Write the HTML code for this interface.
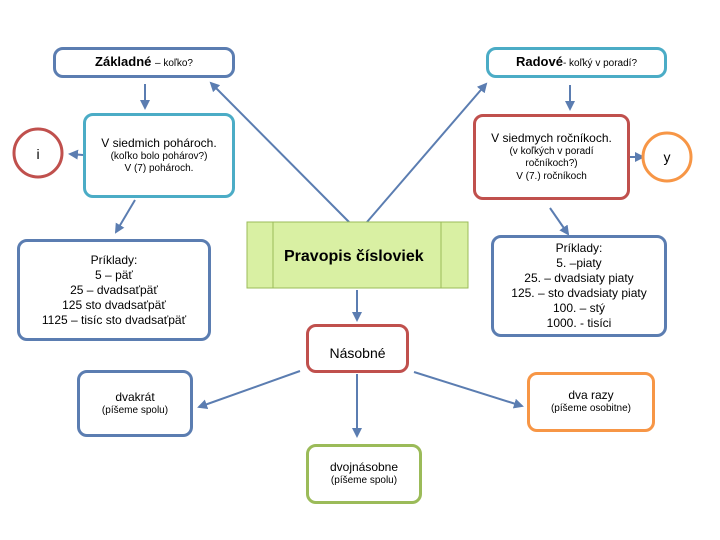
<!DOCTYPE html>
<html><head><meta charset="utf-8"><style>
body{margin:0;background:#fff;}
.b{position:absolute;box-sizing:border-box;border:3px solid #5b7db1;border-radius:10px;background:#fff;display:flex;flex-direction:column;justify-content:center;align-items:center;text-align:center;font-family:"Liberation Sans",sans-serif;color:#000;line-height:1.25}
.s{font-size:10px}
.m{font-size:12px}
</style></head><body>
<div style="position:relative;width:720px;height:540px;overflow:hidden">
<svg width="720" height="540" style="position:absolute;left:0;top:0">
<defs><marker id="a" markerWidth="5" markerHeight="5" refX="4" refY="2.5" orient="auto"><path d="M0,0L5,2.5L0,5z" fill="#5b7db1"/></marker></defs>
<g stroke="#5b7db1" stroke-width="2" fill="none" marker-end="url(#a)">
<line x1="145" y1="84" x2="145" y2="108"/>
<line x1="83" y1="155" x2="70" y2="154"/>
<line x1="135" y1="200" x2="116" y2="232"/>
<line x1="349" y1="222" x2="211" y2="83"/>
<line x1="367" y1="222" x2="486" y2="84"/>
<line x1="570" y1="85" x2="570" y2="109"/>
<line x1="630" y1="157" x2="643" y2="157"/>
<line x1="550" y1="208" x2="568" y2="234"/>
<line x1="357" y1="290" x2="357" y2="320"/>
<line x1="300" y1="371" x2="199" y2="407"/>
<line x1="357" y1="374" x2="357" y2="436"/>
<line x1="414" y1="372" x2="522" y2="406"/>
</g>
<rect x="247" y="222" width="221" height="66" fill="#d9f0a3" stroke="#9bbb59" stroke-width="1"/>
<line x1="273" y1="222" x2="273" y2="288" stroke="#9bbb59"/>
<line x1="441" y1="222" x2="441" y2="288" stroke="#9bbb59"/>
<circle cx="38" cy="153" r="24" fill="#fff" stroke="#c0504d" stroke-width="3"/>
<circle cx="667" cy="157" r="24" fill="#fff" stroke="#f79646" stroke-width="3"/>
<text x="38" y="159" font-family="Liberation Sans" font-size="14" text-anchor="middle">i</text>
<text x="667" y="162" font-family="Liberation Sans" font-size="14" text-anchor="middle">y</text>
<text x="284" y="261" font-family="Liberation Sans" font-size="16" font-weight="bold">Pravopis čísloviek</text>
</svg>
<div class="b" style="left:53px;top:47px;width:182px;height:31px;font-size:13px"><div><b>Základné</b> <span class="s">– koľko?</span></div></div>
<div class="b" style="left:486px;top:47px;width:181px;height:31px;font-size:13px;border-color:#4bacc6"><div><b>Radové</b><span class="s">- koľký v poradí?</span></div></div>
<div class="b" style="left:83px;top:113px;width:152px;height:85px;border-color:#4bacc6"><div class="m">V siedmich pohároch.</div><div class="s">(koľko bolo pohárov?)<br>V (7) pohároch.</div></div>
<div class="b" style="left:473px;top:114px;width:157px;height:86px;border-color:#c0504d"><div class="m">V siedmych ročníkoch.</div><div class="s">(v koľkých v poradí<br>ročníkoch?)<br>V (7.) ročníkoch</div></div>
<div class="b" style="left:17px;top:239px;width:194px;height:102px;font-size:12px">Príklady:<br>5 – päť<br>25 – dvadsaťpäť<br>125 sto dvadsaťpäť<br>1125 – tisíc sto dvadsaťpäť</div>
<div class="b" style="left:491px;top:235px;width:176px;height:102px;font-size:12px">Príklady:<br>5. –piaty<br>25. – dvadsiaty piaty<br>125. – sto dvadsiaty piaty<br>100. – stý<br>1000. - tisíci</div>
<div class="b" style="left:306px;top:324px;width:103px;height:49px;border-color:#c0504d;font-size:14px;padding-top:10px">Násobné</div>
<div class="b" style="left:77px;top:370px;width:116px;height:67px"><div class="m">dvakrát</div><div class="s">(píšeme spolu)</div></div>
<div class="b" style="left:527px;top:372px;width:128px;height:60px;border-color:#f79646"><div class="m">dva razy</div><div class="s">(píšeme osobitne)</div></div>
<div class="b" style="left:306px;top:444px;width:116px;height:60px;border-color:#9bbb59"><div class="m">dvojnásobne</div><div class="s">(píšeme spolu)</div></div>
</div>
</body></html>
